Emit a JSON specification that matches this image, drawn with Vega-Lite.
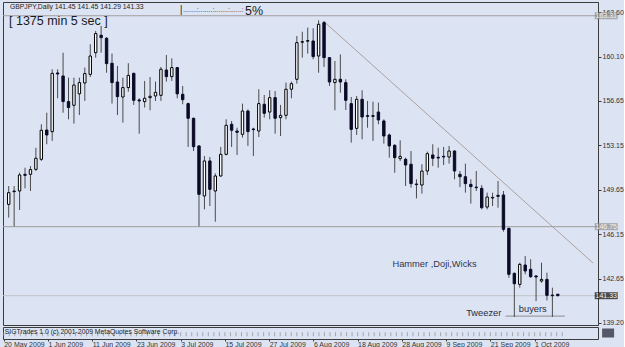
{
  "$schema": "https://vega.github.io/schema/vega-lite/v6.json",
  "background": "#dce4f4",
  "padding": {"left": 2, "top": 1, "right": 0, "bottom": 0},
  "bounds": "flush",
  "spacing": 2,
  "config": {
    "view": {"stroke": "#3c3c3c", "strokeWidth": 1},
    "font": "Liberation Sans",
    "text": {"font": "Liberation Sans"}
  },
  "datasets": {
    "candles": [
      {"i":0,"d":"2009-05-20","o":148.50,"h":149.94,"l":147.46,"c":149.42},
      {"i":1,"d":"2009-05-21","o":149.55,"h":149.94,"l":146.77,"c":149.50},
      {"i":2,"d":"2009-05-22","o":149.55,"h":150.99,"l":148.06,"c":150.81},
      {"i":3,"d":"2009-05-25","o":150.86,"h":151.38,"l":149.76,"c":150.78},
      {"i":4,"d":"2009-05-26","o":150.86,"h":151.51,"l":149.55,"c":151.23},
      {"i":5,"d":"2009-05-27","o":151.25,"h":152.95,"l":151.12,"c":152.12},
      {"i":6,"d":"2009-05-28","o":152.04,"h":154.79,"l":151.91,"c":154.32},
      {"i":7,"d":"2009-05-29","o":154.34,"h":155.70,"l":153.22,"c":153.95},
      {"i":8,"d":"2009-06-01","o":154.21,"h":159.11,"l":153.48,"c":158.79},
      {"i":9,"d":"2009-06-02","o":158.82,"h":159.11,"l":156.83,"c":158.74},
      {"i":10,"d":"2009-06-03","o":158.58,"h":160.41,"l":155.70,"c":156.57},
      {"i":11,"d":"2009-06-04","o":156.57,"h":158.45,"l":155.18,"c":156.10},
      {"i":12,"d":"2009-06-05","o":156.28,"h":158.45,"l":154.84,"c":157.87},
      {"i":13,"d":"2009-06-08","o":157.18,"h":158.45,"l":155.52,"c":158.06},
      {"i":14,"d":"2009-06-09","o":158.03,"h":159.24,"l":156.62,"c":158.77},
      {"i":15,"d":"2009-06-10","o":158.71,"h":161.07,"l":158.50,"c":160.15},
      {"i":16,"d":"2009-06-11","o":160.41,"h":162.12,"l":160.02,"c":161.91},
      {"i":17,"d":"2009-06-12","o":161.78,"h":162.51,"l":160.41,"c":161.59},
      {"i":18,"d":"2009-06-15","o":161.54,"h":161.64,"l":158.84,"c":159.55},
      {"i":19,"d":"2009-06-16","o":159.58,"h":160.34,"l":156.41,"c":158.06},
      {"i":20,"d":"2009-06-17","o":158.11,"h":159.37,"l":155.52,"c":156.96},
      {"i":21,"d":"2009-06-18","o":156.93,"h":158.45,"l":154.92,"c":157.67},
      {"i":22,"d":"2009-06-19","o":157.67,"h":159.58,"l":157.35,"c":158.63},
      {"i":23,"d":"2009-06-22","o":158.79,"h":158.84,"l":156.31,"c":156.67},
      {"i":24,"d":"2009-06-23","o":156.70,"h":156.83,"l":154.05,"c":156.62},
      {"i":25,"d":"2009-06-24","o":156.57,"h":158.19,"l":156.10,"c":156.83},
      {"i":26,"d":"2009-06-25","o":156.88,"h":158.50,"l":155.89,"c":156.99},
      {"i":27,"d":"2009-06-26","o":157.01,"h":158.14,"l":156.62,"c":157.30},
      {"i":28,"d":"2009-06-29","o":157.06,"h":159.29,"l":156.62,"c":159.11},
      {"i":29,"d":"2009-06-30","o":159.05,"h":160.23,"l":158.14,"c":158.53},
      {"i":30,"d":"2009-07-01","o":158.53,"h":159.97,"l":158.19,"c":159.24},
      {"i":31,"d":"2009-07-02","o":159.24,"h":159.29,"l":156.83,"c":157.18},
      {"i":32,"d":"2009-07-03","o":157.14,"h":157.80,"l":156.36,"c":156.72},
      {"i":33,"d":"2009-07-06","o":156.41,"h":156.49,"l":153.01,"c":155.26},
      {"i":34,"d":"2009-07-07","o":155.26,"h":155.31,"l":152.69,"c":153.03},
      {"i":35,"d":"2009-07-08","o":153.09,"h":153.14,"l":146.78,"c":149.29},
      {"i":36,"d":"2009-07-09","o":149.16,"h":152.30,"l":148.11,"c":151.91},
      {"i":37,"d":"2009-07-10","o":151.91,"h":152.22,"l":148.37,"c":149.68},
      {"i":38,"d":"2009-07-13","o":149.55,"h":150.94,"l":147.14,"c":150.73},
      {"i":39,"d":"2009-07-14","o":150.73,"h":153.01,"l":150.67,"c":152.43},
      {"i":40,"d":"2009-07-15","o":152.43,"h":155.18,"l":152.35,"c":154.71},
      {"i":41,"d":"2009-07-16","o":154.79,"h":155.05,"l":153.01,"c":154.32},
      {"i":42,"d":"2009-07-17","o":154.26,"h":154.52,"l":152.38,"c":154.16},
      {"i":43,"d":"2009-07-20","o":154.00,"h":156.41,"l":153.74,"c":155.83},
      {"i":44,"d":"2009-07-21","o":155.83,"h":155.96,"l":153.09,"c":154.21},
      {"i":45,"d":"2009-07-22","o":154.42,"h":154.52,"l":152.30,"c":154.37},
      {"i":46,"d":"2009-07-23","o":154.26,"h":157.54,"l":153.79,"c":156.41},
      {"i":47,"d":"2009-07-24","o":156.36,"h":157.09,"l":155.31,"c":155.65},
      {"i":48,"d":"2009-07-27","o":155.75,"h":157.46,"l":155.18,"c":156.88},
      {"i":49,"d":"2009-07-28","o":156.88,"h":157.40,"l":154.05,"c":155.26},
      {"i":50,"d":"2009-07-29","o":155.31,"h":156.31,"l":153.87,"c":155.49},
      {"i":51,"d":"2009-07-30","o":155.49,"h":158.06,"l":155.18,"c":157.54},
      {"i":52,"d":"2009-07-31","o":157.54,"h":158.14,"l":156.83,"c":157.98},
      {"i":53,"d":"2009-08-03","o":158.32,"h":161.72,"l":157.98,"c":161.20},
      {"i":54,"d":"2009-08-04","o":161.23,"h":162.06,"l":160.02,"c":161.28},
      {"i":55,"d":"2009-08-05","o":161.31,"h":162.38,"l":160.34,"c":161.36},
      {"i":56,"d":"2009-08-06","o":161.33,"h":162.33,"l":159.89,"c":160.10},
      {"i":57,"d":"2009-08-07","o":160.15,"h":162.95,"l":158.84,"c":162.64},
      {"i":58,"d":"2009-08-10","o":162.77,"h":162.90,"l":159.29,"c":160.02},
      {"i":59,"d":"2009-08-11","o":160.02,"h":160.07,"l":157.80,"c":158.11},
      {"i":60,"d":"2009-08-12","o":158.06,"h":159.76,"l":155.89,"c":158.32},
      {"i":61,"d":"2009-08-13","o":158.32,"h":160.28,"l":157.27,"c":158.11},
      {"i":62,"d":"2009-08-14","o":158.06,"h":158.32,"l":155.91,"c":156.67},
      {"i":63,"d":"2009-08-17","o":156.41,"h":156.93,"l":153.35,"c":154.39},
      {"i":64,"d":"2009-08-18","o":154.47,"h":157.01,"l":153.95,"c":156.75},
      {"i":65,"d":"2009-08-19","o":156.75,"h":157.46,"l":153.61,"c":155.36},
      {"i":66,"d":"2009-08-20","o":155.47,"h":156.62,"l":154.52,"c":155.41},
      {"i":67,"d":"2009-08-21","o":155.41,"h":156.57,"l":153.48,"c":155.47},
      {"i":68,"d":"2009-08-24","o":155.75,"h":156.49,"l":154.79,"c":155.13},
      {"i":69,"d":"2009-08-25","o":155.05,"h":155.18,"l":153.27,"c":153.87},
      {"i":70,"d":"2009-08-26","o":153.95,"h":154.05,"l":152.17,"c":153.09},
      {"i":71,"d":"2009-08-27","o":153.14,"h":153.22,"l":150.99,"c":152.17},
      {"i":72,"d":"2009-08-28","o":152.09,"h":153.53,"l":151.91,"c":152.27},
      {"i":73,"d":"2009-08-31","o":152.04,"h":152.17,"l":149.94,"c":151.59},
      {"i":74,"d":"2009-09-01","o":151.65,"h":152.69,"l":149.81,"c":150.13},
      {"i":75,"d":"2009-09-02","o":150.10,"h":150.47,"l":148.97,"c":150.05},
      {"i":76,"d":"2009-09-03","o":150.02,"h":151.65,"l":149.34,"c":151.12},
      {"i":77,"d":"2009-09-04","o":151.12,"h":152.64,"l":150.81,"c":152.48},
      {"i":78,"d":"2009-09-07","o":152.38,"h":153.22,"l":151.51,"c":152.12},
      {"i":79,"d":"2009-09-08","o":152.20,"h":152.95,"l":151.38,"c":152.14},
      {"i":80,"d":"2009-09-09","o":152.27,"h":153.01,"l":151.59,"c":152.22},
      {"i":81,"d":"2009-09-10","o":152.22,"h":153.09,"l":151.70,"c":152.69},
      {"i":82,"d":"2009-09-11","o":152.69,"h":152.75,"l":150.47,"c":151.12},
      {"i":83,"d":"2009-09-14","o":150.86,"h":151.12,"l":149.86,"c":150.67},
      {"i":84,"d":"2009-09-15","o":150.67,"h":151.70,"l":149.42,"c":150.13},
      {"i":85,"d":"2009-09-16","o":150.07,"h":150.47,"l":148.56,"c":149.89},
      {"i":86,"d":"2009-09-17","o":149.86,"h":151.12,"l":149.55,"c":149.81},
      {"i":87,"d":"2009-09-18","o":149.76,"h":150.02,"l":148.11,"c":148.24},
      {"i":88,"d":"2009-09-21","o":148.29,"h":149.42,"l":148.11,"c":149.08},
      {"i":89,"d":"2009-09-22","o":149.05,"h":149.42,"l":148.37,"c":149.00},
      {"i":90,"d":"2009-09-23","o":149.21,"h":150.34,"l":148.24,"c":149.13},
      {"i":91,"d":"2009-09-24","o":149.24,"h":149.55,"l":146.36,"c":146.54},
      {"i":92,"d":"2009-09-25","o":146.62,"h":146.67,"l":142.74,"c":143.01},
      {"i":93,"d":"2009-09-28","o":143.09,"h":143.14,"l":139.66,"c":142.27},
      {"i":94,"d":"2009-09-29","o":142.22,"h":143.92,"l":141.96,"c":143.79},
      {"i":95,"d":"2009-09-30","o":143.74,"h":144.45,"l":143.01,"c":143.27},
      {"i":96,"d":"2009-10-01","o":143.40,"h":144.19,"l":142.74,"c":142.82},
      {"i":97,"d":"2009-10-02","o":142.88,"h":142.93,"l":140.91,"c":142.80},
      {"i":98,"d":"2009-10-05","o":142.48,"h":143.92,"l":142.35,"c":142.61},
      {"i":99,"d":"2009-10-06","o":142.61,"h":143.14,"l":140.96,"c":141.36},
      {"i":100,"d":"2009-10-07","o":141.38,"h":141.96,"l":139.66,"c":141.33},
      {"i":101,"d":"2009-10-08","o":141.45,"h":141.45,"l":141.29,"c":141.33}
    ],
    "levels": [
      {"p": 163.31, "k": "line"},
      {"p": 146.75, "k": "support"},
      {"p": 141.33, "k": "bid"}
    ]
  },
  "vconcat": [
    {
      "width": 595,
      "height": 323,
      "layer": [
        {
          "data": {"name": "levels"},
          "mark": {"type": "rule", "strokeWidth": 1},
          "encoding": {
            "y": {"field": "p", "type": "quantitative", "scale": {"domain": [139.03, 164.39], "nice": false, "zero": false},
              "axis": {"orient": "right", "values": [139.2, 140.9, 142.65, 144.4, 146.15, 147.9, 149.65, 151.4, 153.15, 154.9, 156.65, 158.4, 160.1, 161.85, 163.6],
                "format": ".2f", "title": null, "grid": false, "domainColor": "#3c3c3c", "tickColor": "#3c3c3c", "tickSize": 3,
                "labelFontSize": 7, "labelColor": "#333333", "labelPadding": 1, "labelFont": "Liberation Sans"}},
            "color": {"condition": {"test": "datum.k == 'bid'", "value": "#c2c2c8"}, "value": "#a09c9c"}
          }
        },
        {
          "data": {"values": [{"ia": 58, "pa": 162.85, "ib": 107.47, "pb": 143.9}]},
          "mark": {"type": "rule", "color": "#aaa09e", "strokeWidth": 1},
          "encoding": {
            "x": {"field": "ia", "type": "quantitative", "scale": {"domain": [-0.13, 107.47], "nice": false, "zero": false}, "axis": null},
            "x2": {"field": "ib"},
            "y": {"field": "pa", "type": "quantitative"},
            "y2": {"field": "pb"}
          }
        },
        {
          "data": {"values": [{"ia": 91.4, "ib": 102.3, "p": 139.73}]},
          "mark": {"type": "rule", "color": "#8c8c8c", "strokeWidth": 1},
          "encoding": {
            "x": {"field": "ia", "type": "quantitative"},
            "x2": {"field": "ib"},
            "y": {"field": "p", "type": "quantitative"}
          }
        },
        {
          "data": {"name": "candles"},
          "mark": {"type": "rule", "color": "#4a4a4a", "strokeWidth": 1},
          "encoding": {
            "x": {"field": "i", "type": "quantitative"},
            "y": {"field": "l", "type": "quantitative"},
            "y2": {"field": "h"}
          }
        },
        {
          "data": {"name": "candles"},
          "mark": {"type": "bar", "orient": "vertical", "size": 2.4, "strokeWidth": 1},
          "encoding": {
            "x": {"field": "i", "type": "quantitative"},
            "y": {"field": "o", "type": "quantitative"},
            "y2": {"field": "c"},
            "fill": {"condition": {"test": "datum.c > datum.o", "value": "#ffffff"}, "value": "#0b0b26"},
            "stroke": {"condition": {"test": "datum.c > datum.o", "value": "#000000"}, "value": "#0b0b26"}
          }
        },
        {
          "data": {"name": "levels"},
          "mark": {"type": "tick", "orient": "horizontal", "size": 23, "thickness": 7},
          "encoding": {
            "x": {"datum": 109.9, "type": "quantitative"},
            "y": {"field": "p", "type": "quantitative"},
            "color": {"condition": {"test": "datum.k == 'bid'", "value": "#0a0a0a"}, "value": "#8f8f8f"}
          }
        },
        {
          "data": {"name": "levels"},
          "mark": {"type": "text", "fontSize": 7, "align": "center", "baseline": "middle", "color": "#f2f2f2"},
          "encoding": {
            "x": {"datum": 109.9, "type": "quantitative"},
            "y": {"field": "p", "type": "quantitative"},
            "text": {"field": "p", "type": "quantitative", "format": ".2f"}
          }
        },
        {
          "data": {"values": [{}]},
          "mark": {"type": "text", "text": "GBPJPY,Daily  141.45 141.45 141.29 141.33", "fontSize": 6.8, "align": "left", "baseline": "middle", "color": "#222222"},
          "encoding": {"x": {"datum": 0.23, "type": "quantitative"}, "y": {"datum": 164.0, "type": "quantitative"}}
        },
        {
          "data": {"values": [{}]},
          "mark": {"type": "text", "text": "[ 1375 min 5 sec ]", "fontSize": 12.5, "align": "left", "baseline": "middle", "color": "#1a1a1a"},
          "encoding": {"x": {"datum": 0.05, "type": "quantitative"}, "y": {"datum": 162.86, "type": "quantitative"}}
        },
        {
          "data": {"values": [{}]},
          "mark": {"type": "text", "text": "|", "fontSize": 11, "align": "center", "baseline": "middle", "color": "#333344"},
          "encoding": {"x": {"datum": 31.7, "type": "quantitative"}, "y": {"datum": 163.73, "type": "quantitative"}}
        },
        {
          "data": {"values": [{}]},
          "mark": {"type": "text", "text": ".......:.......:.......:......:", "fontSize": 7, "align": "left", "baseline": "bottom", "color": "#333344"},
          "encoding": {"x": {"datum": 32.1, "type": "quantitative"}, "y": {"datum": 163.53, "type": "quantitative"}}
        },
        {
          "data": {"values": [{}]},
          "mark": {"type": "text", "text": "5%", "fontSize": 12.5, "align": "left", "baseline": "middle", "color": "#1a1a1a"},
          "encoding": {"x": {"datum": 43.45, "type": "quantitative"}, "y": {"datum": 163.69, "type": "quantitative"}}
        },
        {
          "data": {"values": [{}]},
          "mark": {"type": "text", "text": "Hammer ,Doji,Wicks", "fontSize": 9.3, "align": "left", "baseline": "middle", "color": "#33334a"},
          "encoding": {"x": {"datum": 70.58, "type": "quantitative"}, "y": {"datum": 143.82, "type": "quantitative"}}
        },
        {
          "data": {"values": [{}]},
          "mark": {"type": "text", "text": "Tweezer", "fontSize": 9.3, "align": "left", "baseline": "middle", "color": "#2a2a3a"},
          "encoding": {"x": {"datum": 84.14, "type": "quantitative"}, "y": {"datum": 139.97, "type": "quantitative"}}
        },
        {
          "data": {"values": [{}]},
          "mark": {"type": "text", "text": "buyers", "fontSize": 9.3, "align": "left", "baseline": "middle", "color": "#2a2a3a"},
          "encoding": {"x": {"datum": 93.82, "type": "quantitative"}, "y": {"datum": 140.28, "type": "quantitative"}}
        }
      ]
    },
    {
      "width": 595,
      "height": 12,
      "layer": [
        {
          "data": {"name": "candles"},
          "mark": {"type": "tick", "orient": "vertical", "size": 4, "thickness": 1, "color": "#8a8a8a"},
          "encoding": {
            "x": {"field": "i", "type": "quantitative", "scale": {"domain": [-0.13, 107.47], "nice": false, "zero": false},
              "axis": {"values": [0, 8, 16, 24, 32, 40, 48, 56, 64, 72, 80, 88, 96],
                "labelExpr": "['20 May 2009','1 Jun 2009','11 Jun 2009','23 Jun 2009','3 Jul 2009','15 Jul 2009','27 Jul 2009','6 Aug 2009','18 Aug 2009','28 Aug 2009','9 Sep 2009','21 Sep 2009','1 Oct 2009'][round(datum.value/8)]",
                "labelAlign": "left", "labelFontSize": 7, "labelColor": "#333333", "labelFont": "Liberation Sans",
                "tickSize": 2, "tickColor": "#3c3c3c", "domain": false, "grid": false, "title": null, "labelPadding": -1}},
            "y": {"datum": 0.4, "type": "quantitative", "scale": {"domain": [0, 1]}, "axis": null}
          }
        },
        {
          "data": {"values": [{}]},
          "mark": {"type": "text", "text": "SIGTrades 1.0 (c) 2001-2009 MetaQuotes Software Corp.", "fontSize": 6.8, "align": "left", "baseline": "middle", "color": "#222222"},
          "encoding": {"x": {"datum": 0.2, "type": "quantitative"}, "y": {"datum": 0.55, "type": "quantitative"}}
        },
        {
          "data": {"values": [{}]},
          "mark": {"type": "tick", "orient": "horizontal", "size": 12, "thickness": 9, "color": "#1c1c2c"},
          "encoding": {"x": {"datum": 109.3, "type": "quantitative"}, "y": {"datum": 0.5, "type": "quantitative"}}
        }
      ]
    }
  ]
}
